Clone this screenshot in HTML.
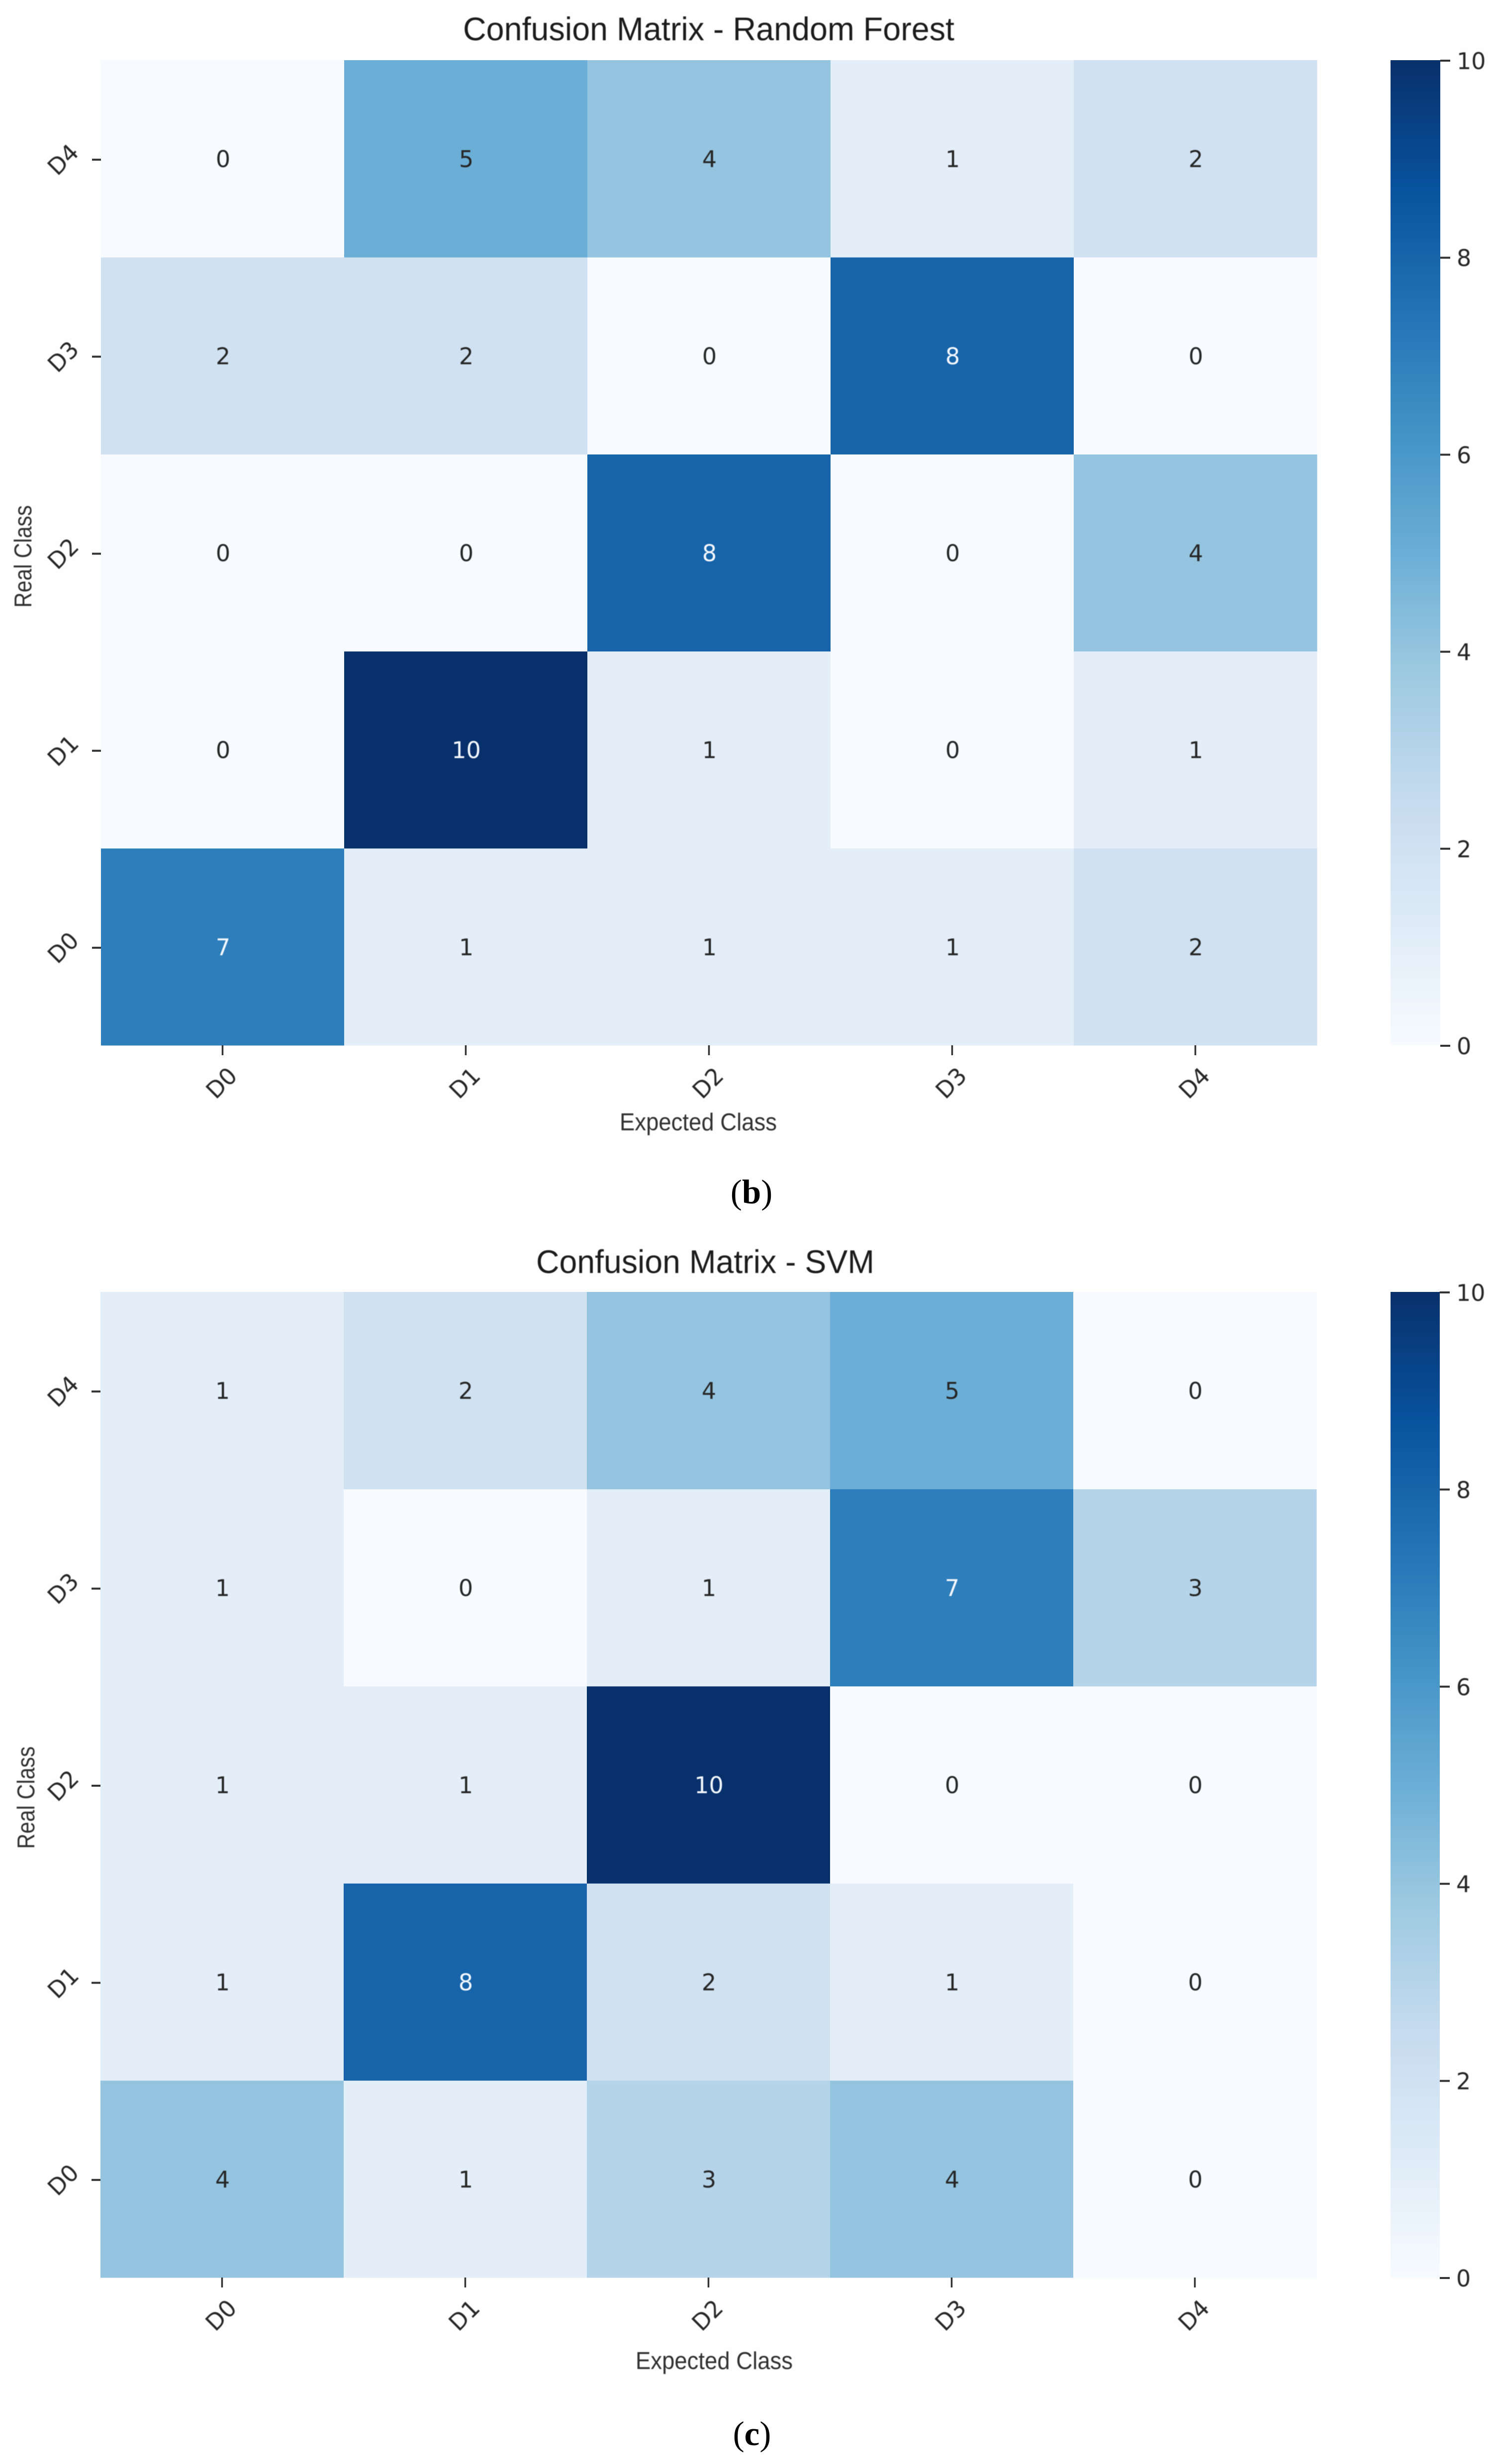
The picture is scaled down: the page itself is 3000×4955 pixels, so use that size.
<!DOCTYPE html>
<html lang="en">
<head>
<meta charset="utf-8">
<title>Confusion Matrices - Random Forest and SVM</title>
<style>
  html, body { margin: 0; padding: 0; background: #fefefe; }
  svg { display: block; }
  .title { font-family: "Liberation Sans", sans-serif; font-size: 66px; fill: #1c1c1c; }
  .axis-title { font-family: "Liberation Sans", sans-serif; font-size: 49px; fill: #303030; }
  .tick-label { font-family: "DejaVu Sans", sans-serif; font-size: 46px; fill: #262626; }
  .cbar-label { font-family: "DejaVu Sans", sans-serif; font-size: 46px; fill: #262626; }
  .annot { font-family: "DejaVu Sans", sans-serif; font-size: 46px; }
  .caption { font-family: "Liberation Serif", serif; font-size: 69px; fill: #000; }
  .soft { filter: blur(0.9px); }
</style>
</head>
<body>
<svg id="figure" xmlns="http://www.w3.org/2000/svg" width="3000" height="4955" viewBox="0 0 3000 4955">
  <rect x="0" y="0" width="3000" height="4955" fill="#fefefe"/>
  <defs>
    <linearGradient id="blues-gradient" x1="0" y1="1" x2="0" y2="0"></linearGradient>
  </defs>

  <text class="title soft" x="1425" y="81" text-anchor="middle" textLength="988" lengthAdjust="spacingAndGlyphs">Confusion Matrix - Random Forest</text>
  <g id="panel-rf"></g>
  <text class="axis-title soft" x="1404" y="2273" text-anchor="middle" textLength="316" lengthAdjust="spacingAndGlyphs">Expected Class</text>
  <text class="axis-title soft" transform="translate(63 1222) rotate(-90)" x="0" y="0" textLength="206" lengthAdjust="spacingAndGlyphs">Real Class</text>
  <text class="caption" x="1511" y="2420" text-anchor="middle">(<tspan font-weight="bold">b</tspan>)</text>

  <text class="title soft" x="1418" y="2560" text-anchor="middle" textLength="680" lengthAdjust="spacingAndGlyphs">Confusion Matrix - SVM</text>
  <g id="panel-svm"></g>
  <text class="axis-title soft" x="1436" y="4764" text-anchor="middle" textLength="316" lengthAdjust="spacingAndGlyphs">Expected Class</text>
  <text class="axis-title soft" transform="translate(69 3718) rotate(-90)" x="0" y="0" textLength="206" lengthAdjust="spacingAndGlyphs">Real Class</text>
  <text class="caption" x="1512" y="4917" text-anchor="middle">(<tspan font-weight="bold">c</tspan>)</text>
</svg>

<script>
// Chart data: rows are listed from D0 (bottom row) up to D4 (top row).
const categories = ['D0', 'D1', 'D2', 'D3', 'D4'];
const randomForestValues = [
  [7, 1, 1, 1, 2],
  [0, 10, 1, 0, 1],
  [0, 0, 8, 0, 4],
  [2, 2, 0, 8, 0],
  [0, 5, 4, 1, 2]
];
const svmValues = [
  [4, 1, 3, 4, 0],
  [1, 8, 2, 1, 0],
  [1, 1, 10, 0, 0],
  [1, 0, 1, 7, 3],
  [1, 2, 4, 5, 0]
];
const colorbarTicks = [0, 2, 4, 6, 8, 10];
const colorMin = 0;
const colorMax = 10;
const bluesStops = ['#f7fbff', '#deebf7', '#c6dbef', '#9ecae1', '#6baed6', '#4292c6', '#2171b5', '#08519c', '#08306b'];

const SVG_NS = 'http://www.w3.org/2000/svg';

function make(parent, tag, attrs, text) {
  const node = document.createElementNS(SVG_NS, tag);
  for (const key in attrs) node.setAttribute(key, attrs[key]);
  if (text !== undefined) node.textContent = text;
  parent.appendChild(node);
  return node;
}

function hexToRgb(hex) {
  return [1, 3, 5].map(function (i) { return parseInt(hex.substr(i, 2), 16); });
}

function colorFor(value) {
  const t = Math.max(0, Math.min(1, (value - colorMin) / (colorMax - colorMin)));
  const pos = t * (bluesStops.length - 1);
  const i = Math.min(Math.floor(pos), bluesStops.length - 2);
  const f = pos - i;
  const a = hexToRgb(bluesStops[i]);
  const b = hexToRgb(bluesStops[i + 1]);
  return a.map(function (c, k) { return Math.round(c + (b[k] - c) * f); });
}

function annotationColor(rgb) {
  const lum = (0.2126 * rgb[0] + 0.7152 * rgb[1] + 0.0722 * rgb[2]) / 255;
  return lum < 0.5 ? '#f4f8fc' : '#262626';
}

const gradient = document.getElementById('blues-gradient');
bluesStops.forEach(function (color, i) {
  make(gradient, 'stop', { offset: i / (bluesStops.length - 1), 'stop-color': color });
});

function drawPanel(group, prefix, values, box) {
  const cellW = (box.right - box.left) / categories.length;
  const cellH = (box.bottom - box.top) / categories.length;
  const xScale = function (col) { return box.left + col * cellW; };
  const yScale = function (row) { return box.bottom - (row + 1) * cellH; };
  const cbarY = function (v) { return box.bottom - (v - colorMin) / (colorMax - colorMin) * (box.bottom - box.top); };

  values.forEach(function (rowValues, row) {
    rowValues.forEach(function (value, col) {
      const rgb = colorFor(value);
      const cell = make(group, 'rect', {
        x: xScale(col), y: yScale(row), width: cellW + 0.5, height: cellH + 0.5,
        fill: 'rgb(' + rgb.join(',') + ')'
      });
      
      
    });
  });

  values.forEach(function (rowValues, row) {
    rowValues.forEach(function (value, col) {
      const rgb = colorFor(value);
      const label = make(group, 'text', {
        class: 'annot soft', 'text-anchor': 'middle',
        x: xScale(col) + cellW / 2 + 1, y: yScale(row) + cellH / 2 + 17,
        fill: annotationColor(rgb)
      }, String(value));
      
      
    });
  });

  categories.forEach(function (name, col) {
    const cx = xScale(col) + cellW / 2;
    const tick = make(group, 'line', { x1: cx, x2: cx, y1: box.bottom, y2: box.bottom + 20, stroke: '#333', 'stroke-width': 3.5 });
    
    
    const lx = cx - 2;
    const ly = box.bottom + 76;
    const label = make(group, 'text', {
      class: 'tick-label soft', 'text-anchor': 'middle', x: lx, y: ly + 16,
      transform: 'rotate(-45 ' + lx + ' ' + ly + ')'
    }, name);
    
    
  });

  categories.forEach(function (name, row) {
    const cy = yScale(row) + cellH / 2 + 2;
    const tick = make(group, 'line', { x1: box.left - 18, x2: box.left, y1: cy, y2: cy, stroke: '#333', 'stroke-width': 4 });
    
    
    const lx = 127;
    const label = make(group, 'text', {
      class: 'tick-label soft', 'text-anchor': 'middle', x: lx, y: cy + 16,
      transform: 'rotate(-45 ' + lx + ' ' + cy + ')'
    }, name);
    
    
  });

  const bar = make(group, 'rect', {
    x: box.cbarLeft, y: box.top, width: box.cbarRight - box.cbarLeft, height: box.bottom - box.top,
    fill: 'url(#blues-gradient)'
  });
  
  

  colorbarTicks.forEach(function (v) {
    const y = cbarY(v);
    const tick = make(group, 'line', { x1: box.cbarRight, x2: box.cbarRight + 20, y1: y + 1, y2: y + 1, stroke: '#333', 'stroke-width': 4 });
    
    
    const label = make(group, 'text', { class: 'cbar-label soft', x: box.cbarRight + 33, y: y + 18 }, String(v));
    
    
  });
}

drawPanel(document.getElementById('panel-rf'), 'random-forest', randomForestValues,
  { left: 203, right: 2648, top: 121, bottom: 2102, cbarLeft: 2796, cbarRight: 2896 });
drawPanel(document.getElementById('panel-svm'), 'svm', svmValues,
  { left: 202, right: 2647, top: 2598, bottom: 4580, cbarLeft: 2796, cbarRight: 2895 });
</script>
</body>
</html>
